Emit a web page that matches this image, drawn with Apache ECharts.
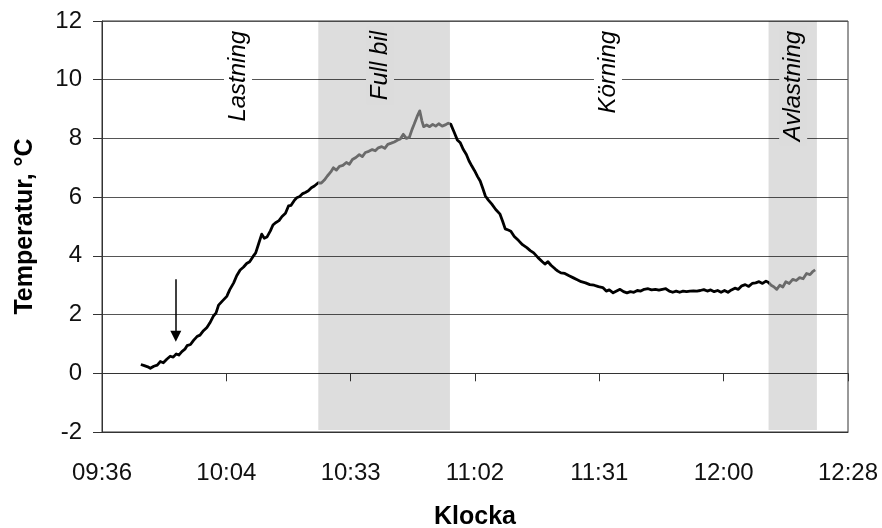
<!DOCTYPE html>
<html>
<head>
<meta charset="utf-8">
<script src="https://cdn.jsdelivr.net/npm/echarts@6/dist/echarts.min.js"></script>
<style>
  html, body { margin: 0; padding: 0; background: #fff; }
  #chart { width: 882px; height: 528px; }
</style>
</head>
<body>
<div id="chart"></div>
<script>
// Time in minutes after midnight (09:36 = 576), temperature in °C
const times = [
  585.0, 585.8, 586.6, 587.2, 588.0, 588.8, 589.5, 590.2, 591.0, 591.8,
  592.5, 593.2, 593.8, 594.5, 595.2, 595.7, 596.5, 597.2, 598.0, 598.7,
  599.5, 600.3, 601.0, 601.8, 602.4, 603.0, 603.8, 604.9, 605.6, 606.5,
  607.2, 608.0, 608.8, 609.5, 610.2, 611.0, 611.6, 612.3, 613.0, 613.6,
  614.2, 615.0, 615.6, 616.2, 617.0, 617.7, 618.5, 619.2, 619.8, 620.5,
  621.1, 621.8, 622.5, 623.1, 623.8, 624.5, 625.2, 626.1,
  626.8, 627.5, 628.2, 629.0, 629.6, 630.3, 631.0, 631.8, 632.6, 633.3,
  634.0, 634.8, 635.6, 636.3, 637.0, 637.8, 638.6, 639.3, 640.0, 640.8,
  641.5, 642.2, 643.0, 643.7, 644.4, 645.1, 645.8, 646.5, 647.2, 647.8,
  648.3, 649.0, 649.6, 650.1, 650.5, 651.2, 651.9, 652.6, 653.3, 654.0,
  654.8, 655.5, 656.2, 656.8,
  657.6, 658.3, 659.0, 659.7, 660.4, 661.0, 661.7, 662.3, 663.0, 663.6,
  664.2, 664.8, 665.5, 666.3, 667.2, 668.2, 668.8, 669.4, 670.1, 670.7,
  671.5, 672.5, 673.4, 674.4, 675.2, 676.0, 677.0, 678.0, 678.6, 679.3,
  680.0, 681.0, 681.6, 682.3, 683.2, 684.2, 685.2, 686.2, 687.0, 688.0,
  689.0, 690.0, 691.0, 692.0, 692.8, 693.5, 694.4, 695.2, 696.0, 696.8,
  697.6, 698.4, 699.2, 700.0, 700.8, 701.6, 702.5, 703.3, 704.2, 705.0,
  705.8, 706.6, 707.4, 708.2, 709.0, 709.8, 710.6, 711.4, 712.2, 713.0,
  713.8, 714.6, 715.4, 716.2, 717.0, 717.8, 718.6, 719.4, 720.2, 721.0,
  721.8, 722.6, 723.4, 724.2, 725.0, 725.8, 726.6, 727.4, 728.2, 729.0,
  729.8, 730.4,
  731.0, 731.6, 732.3, 733.0, 733.7, 734.4, 735.2, 736.0, 736.8, 737.6,
  738.4, 739.2, 740.0, 740.6, 741.2
];
const temperature = [
  0.30, 0.26, 0.22, 0.17, 0.24, 0.28, 0.40, 0.36, 0.48, 0.58,
  0.55, 0.66, 0.62, 0.74, 0.82, 0.94, 0.98, 1.12, 1.25, 1.30,
  1.45, 1.56, 1.72, 1.95, 2.05, 2.32, 2.45, 2.62, 2.85, 3.08,
  3.32, 3.52, 3.62, 3.74, 3.80, 3.98, 4.10, 4.42, 4.74, 4.60,
  4.64, 4.85, 5.05, 5.13, 5.20, 5.34, 5.45, 5.70, 5.72, 5.88,
  5.98, 6.02, 6.12, 6.16, 6.22, 6.32, 6.38, 6.49,
  6.48, 6.58, 6.72, 6.86, 7.00, 6.92, 7.05, 7.08, 7.18, 7.12,
  7.28, 7.35, 7.45, 7.38, 7.52, 7.56, 7.62, 7.58, 7.68, 7.72,
  7.66, 7.80, 7.84, 7.88, 7.94, 7.98, 8.14, 8.00, 8.04, 8.30,
  8.48, 8.75, 8.94, 8.60, 8.40, 8.46, 8.40, 8.48, 8.42, 8.50,
  8.42, 8.46, 8.52, 8.48,
  8.20, 7.95, 7.85, 7.62, 7.45, 7.24, 7.05, 6.90, 6.70, 6.55,
  6.30, 6.04, 5.90, 5.76, 5.58, 5.42, 5.18, 4.92, 4.88, 4.84,
  4.66, 4.52, 4.38, 4.28, 4.18, 4.10, 3.94, 3.80, 3.72, 3.80,
  3.68, 3.55, 3.48, 3.42, 3.40, 3.32, 3.25, 3.18, 3.12, 3.08,
  3.02, 3.00, 2.95, 2.92, 2.80, 2.84, 2.74, 2.80, 2.86, 2.78,
  2.74, 2.78, 2.76, 2.82, 2.80, 2.86, 2.88, 2.84, 2.86, 2.83,
  2.86, 2.88, 2.80, 2.76, 2.80, 2.76, 2.80, 2.78, 2.80, 2.81,
  2.80, 2.82, 2.85, 2.80, 2.84, 2.78, 2.82, 2.76, 2.82, 2.76,
  2.84, 2.90, 2.86, 2.98, 3.02, 2.96, 3.06, 3.08, 3.12, 3.06,
  3.14, 3.09,
  3.00, 2.95, 2.86, 3.00, 2.94, 3.12, 3.06, 3.20, 3.16, 3.26,
  3.22, 3.40, 3.36, 3.46, 3.52
];

// Shaded phases (start, end in minutes)
const fullBil = [626.1, 656.6];
const avlastning = [730.4, 741.6];

// Phase captions: name, time of caption centre, shaded or not
const phaseNames = ['Lastning', 'Full bil', 'Körning', 'Avlastning'];
const phaseTimes = [607.5, 640.4, 693.2, 736.1];
const phaseShaded = [false, true, false, true];

// Arrow marking the start of loading
const arrowTime = 593.1;
const arrowFrom = 3.2;
const arrowTo = 1.26;

const tickLabels = ['09:36', '10:04', '10:33', '11:02', '11:31', '12:00', '12:28'];
const xMin = 576, xMax = 748.8, xStep = 28.8;

const FONT = '"Liberation Sans", Arial, sans-serif';
const shade = 'rgba(0,0,0,0.135)';
const shadeSolid = '#dcdcdc';

const lineData = times.map((t, i) => [t, temperature[i]]);

const chart = echarts.init(document.getElementById('chart'), null, { renderer: 'canvas' });

chart.setOption({
  animation: false,
  backgroundColor: '#fff',
  grid: {
    left: 102, right: 34, top: 21, bottom: 96,
    outerBoundsMode: 'none',
    containLabel: false,
    show: true, borderColor: '#333', borderWidth: 1, backgroundColor: 'transparent'
  },
  xAxis: [
    {
      type: 'value', min: xMin, max: xMax, interval: xStep,
      position: 'bottom',
      name: 'Klocka', nameLocation: 'middle', nameGap: 73,
      nameTextStyle: { fontFamily: FONT, fontSize: 25, fontWeight: 'bold', color: '#000' },
      axisLine: { show: true, onZero: false, lineStyle: { color: '#333', width: 1 } },
      axisTick: { show: false },
      splitLine: { show: false },
      axisLabel: {
        margin: 29, fontFamily: FONT, fontSize: 24, color: '#111',
        formatter: v => tickLabels[Math.round((v - xMin) / xStep)] || ''
      }
    },
    {
      type: 'value', min: xMin, max: xMax, interval: xStep,
      position: 'bottom',
      axisLine: { show: true, onZero: true, lineStyle: { color: '#333', width: 1 } },
      axisTick: { show: true, inside: false, length: 8, lineStyle: { color: '#333', width: 1 } },
      axisLabel: { show: false },
      splitLine: { show: false }
    }
  ],
  yAxis: {
    type: 'value', min: -2, max: 12, interval: 2,
    name: 'Temperatur, °C', nameLocation: 'middle', nameGap: 64,
    nameTextStyle: { fontFamily: FONT, fontSize: 25, fontWeight: 'bold', color: '#000' },
    axisLine: { show: true, onZero: false, lineStyle: { color: '#333', width: 1 } },
    axisTick: { show: true, inside: false, length: 9, lineStyle: { color: '#333' } },
    axisLabel: { margin: 20, fontFamily: FONT, fontSize: 24, color: '#111' },
    splitLine: { show: true, lineStyle: { color: '#555', width: 1 } }
  },
  visualMap: {
    show: false,
    type: 'piecewise',
    seriesIndex: 0,
    dimension: 0,
    pieces: [
      { lt: fullBil[0], color: '#000' },
      { gte: fullBil[0], lt: fullBil[1], color: '#6a6a6a' },
      { gte: fullBil[1], lt: avlastning[0], color: '#000' },
      { gte: avlastning[0], color: '#6a6a6a' }
    ]
  },
  series: [
    {
      name: 'Temperatur',
      type: 'line',
      xAxisIndex: 0,
      data: lineData,
      showSymbol: false,
      symbol: 'none',
      z: 4,
      silent: true,
      lineStyle: { width: 2.8, join: 'round' }
    },
    {
      name: 'Faser',
      type: 'line',
      xAxisIndex: 0,
      data: [],
      z: 2,
      silent: true,
      markArea: {
        silent: true,
        itemStyle: { color: shade },
        data: [
          [{ coord: [fullBil[0], 12] }, { coord: [fullBil[1], -1.93] }],
          [{ coord: [avlastning[0], 12] }, { coord: [avlastning[1], -1.93] }]
        ]
      },
      markPoint: {
        silent: true,
        symbol: 'circle',
        symbolSize: 0,
        data: phaseNames.map((n, i) => ({
          name: n,
          coord: [phaseTimes[i], 11.8],
          label: {
            show: true,
            formatter: n,
            position: 'inside',
            rotate: 90,
            align: 'right',
            verticalAlign: 'middle',
            fontFamily: FONT,
            fontSize: 24,
            fontStyle: 'italic',
            color: '#000',
            backgroundColor: phaseShaded[i] ? shadeSolid : '#fff',
            padding: [2, 4, 2, 4]
          }
        }))
      },
      markLine: {
        silent: true,
        symbol: ['none', 'triangle'],
        symbolSize: 11,
        label: { show: false },
        lineStyle: { color: '#000', width: 1.5, type: 'solid' },
        emphasis: { disabled: true },
        data: [
          [{ coord: [arrowTime, arrowFrom] }, { coord: [arrowTime, arrowTo] }]
        ]
      }
    }
  ]
});
</script>
</body>
</html>
